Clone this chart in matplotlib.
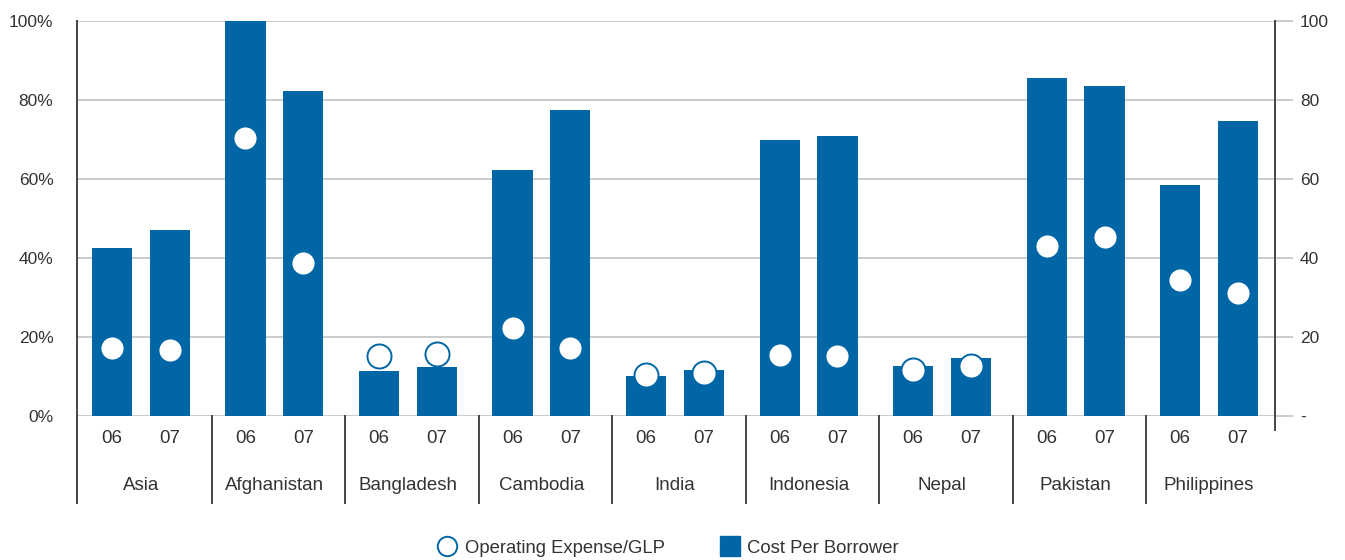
import numpy as np
import matplotlib
matplotlib.use("Agg")
import matplotlib.pyplot as plt
from matplotlib.lines import Line2D

plt.rcParams['font.family'] = ['Liberation Sans', 'DejaVu Sans']

countries = ['Asia', 'Afghanistan', 'Bangladesh', 'Cambodia', 'India',
             'Indonesia', 'Nepal', 'Pakistan', 'Philippines']
years = ['06', '07']

# cost per borrower (right axis)
cost_06 = [42.5, 100.0, 11.4, 62.3, 10.1, 69.9, 12.7, 85.6, 58.5]
cost_07 = [47.1, 82.3, 12.4, 77.5, 11.6, 70.9, 14.7, 83.5, 74.7]

# operating expense / GLP in % (left axis)
opex_06 = [17.2, 70.4, 15.2, 22.3, 10.4, 15.4, 11.6, 43.0, 34.4]
opex_07 = [16.7, 38.7, 15.7, 17.2, 10.9, 15.2, 12.7, 45.3, 31.1]

blue = '#0066a6'
grid_c = '#bdbdbd'
axis_c = '#444444'
text_c = '#333333'

fig = plt.figure(figsize=(13.45, 5.6), dpi=100)
ax = fig.add_axes([77/1345, 1 - 416/560, 1198/1345, 395/560])
ax2 = ax.twinx()
ax.set_zorder(ax2.get_zorder() + 1)
ax.patch.set_visible(False)

x = np.arange(len(countries))
off = 0.217
w = 0.30

ax2.bar(x - off, cost_06, width=w, color=blue, zorder=2)
ax2.bar(x + off, cost_07, width=w, color=blue, zorder=2)

ax.scatter(x - off, opex_06, s=300, facecolor='white', edgecolor=blue,
           linewidth=1.4, zorder=3, clip_on=False)
ax.scatter(x + off, opex_07, s=300, facecolor='white', edgecolor=blue,
           linewidth=1.4, zorder=3, clip_on=False)

xlim = (-0.479, 8.494)
for a in (ax, ax2):
    a.set_xlim(*xlim)
    a.set_ylim(0, 100)
    for s in a.spines.values():
        s.set_visible(False)

# left axis
ax.set_yticks(np.arange(0, 101, 20))
ax.set_yticklabels([f'{v}%' for v in range(0, 101, 20)])
ax.tick_params(axis='y', length=0, pad=17, labelsize=12.5, labelcolor=text_c)
ax.set_xticks([])

# right axis
ax2.set_yticks(np.arange(0, 101, 20))
ax2.set_yticklabels(['-', '20', '40', '60', '80', '100'])
ax2.tick_params(axis='y', length=13, width=1.1, color=grid_c, pad=5,
                labelsize=12.5, labelcolor=text_c)
ax2.yaxis.grid(True, color=grid_c, linewidth=1.1)
ax2.set_axisbelow(True)

# axis lines
ax.plot([0, 0], [-0.22, 1.0], transform=ax.transAxes, color=axis_c,
        linewidth=1.4, clip_on=False, zorder=5)
ax.plot([1, 1], [-0.035, 1.0], transform=ax.transAxes, color=axis_c,
        linewidth=1.4, clip_on=False, zorder=5)

# category separators and labels below the axis
trans = ax.get_xaxis_transform()
for k in range(len(countries) - 1):
    ax.plot([k + 0.53, k + 0.53], [-0.22, 0], transform=trans, color=axis_c,
            linewidth=1.4, clip_on=False)
for k, name in enumerate(countries):
    for dx, yr in zip((-off, off), years):
        ax.text(k + dx, -0.056, yr, transform=trans, ha='center', va='center',
                fontsize=13.5, color=text_c)
    ax.text(k, -0.175, name, transform=trans, ha='center', va='center',
            fontsize=13.5, color=text_c)

handles = [
    Line2D([], [], linestyle='none', marker='o', markersize=14,
           markerfacecolor='white', markeredgecolor=blue, markeredgewidth=1.4),
    Line2D([], [], linestyle='none', marker='s', markersize=14,
           markerfacecolor=blue, markeredgecolor=blue),
]
fig.legend(handles, ['Operating Expense/GLP', 'Cost Per Borrower'],
           loc='center', bbox_to_anchor=(0.497, 0.021), ncol=2, frameon=False,
           fontsize=13.3, labelcolor=text_c, handlelength=1.0, handletextpad=0.45,
           columnspacing=3.0)

fig.savefig('out.png', dpi=100)
